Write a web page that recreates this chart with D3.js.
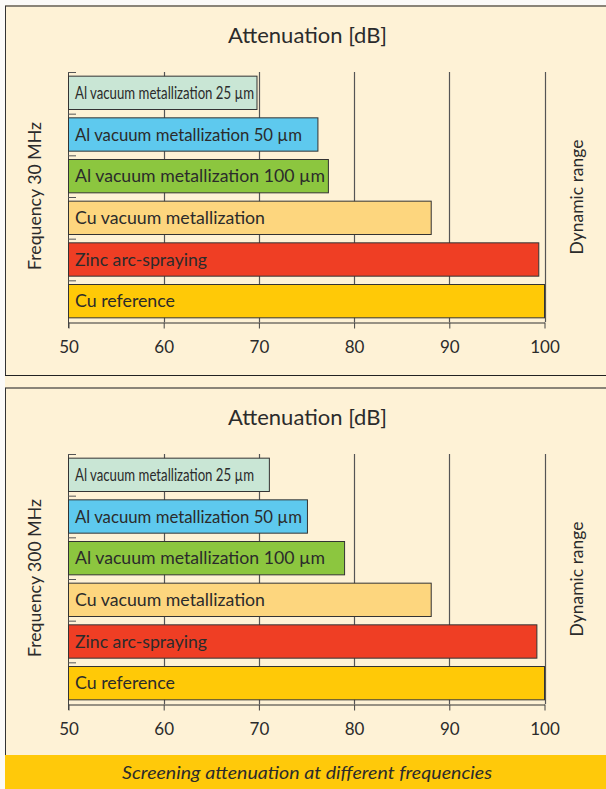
<!DOCTYPE html>
<html><head><meta charset="utf-8">
<script src="https://cdn.jsdelivr.net/npm/d3@7"></script>
<style>
html,body{margin:0;padding:0;background:#fbfaf8;}
svg{display:block;}
text{font-family:Lato,"Open Sans",sans-serif;fill:#2b2b2b;}
</style></head>
<body>
<svg id="c" width="606" height="789"></svg>
<script>
const categories = ["Al vacuum metallization 25 µm","Al vacuum metallization 50 µm","Al vacuum metallization 100 µm","Cu vacuum metallization","Zinc arc-spraying","Cu reference"];
const values30 = [69.8, 76.2, 77.3, 88.1, 99.4, 100];
const values300 = [71.1, 75.1, 79.0, 88.1, 99.2, 100];
const tickValues = [50, 60, 70, 80, 90, 100];
const panelLabels = ["Frequency 30 MHz", "Frequency 300 MHz"];
const axisTitle = "Attenuation [dB]";
const rightLabel = "Dynamic range";
const caption = "Screening attenuation at different frequencies";

const colors = ["#c9e6d5","#5ec9ee","#8cc63f","#fdd67e","#ef3e24","#ffc907"];
const labelWidths = [179, 227, 250, 190, 132, 100];

const svg = d3.select("#c");
const x = d3.scaleLinear().domain([50,100]).range([68.5,544.5]);

svg.append("rect").attr("x",5).attr("y",6).attr("width",601).attr("height",749).attr("fill","#fef2d6");

function panel(top, values, freqLabel, bottomY, freqLen) {
  const y0 = top + 66, y1 = top + 316;
  const g = svg.append("g");
  g.append("line").attr("x1",5).attr("x2",606).attr("y1",top).attr("y2",top).attr("stroke","#8a8478").attr("stroke-width",2);
  g.append("line").attr("x1",5.5).attr("x2",5.5).attr("y1",top).attr("y2",bottomY).attr("stroke","#333").attr("stroke-width",1);

  g.append("text").attr("x",307.5).attr("y",top+37).attr("text-anchor","middle").attr("font-size",22)
    .attr("textLength",159).attr("lengthAdjust","spacingAndGlyphs").text(axisTitle);

  const yb = d3.scaleBand().domain(categories).range([y0,y1]).paddingInner(0.2).paddingOuter(0.1);

  g.selectAll(".grid").data(tickValues.slice(1)).join("line")
    .attr("x1",d=>Math.round(x(d))+0.5).attr("x2",d=>Math.round(x(d))+0.5)
    .attr("y1",y0).attr("y2",y1).attr("stroke","#555").attr("stroke-width",1.2);
  g.append("line").attr("x1",68.5).attr("x2",68.5).attr("y1",y0).attr("y2",y1+6).attr("stroke","#444");
  const step = yb.step();
  g.selectAll(".lt").data(d3.range(categories.length)).join("line")
    .attr("x1",68).attr("x2",76).attr("y1",(d)=>y0+d*step+0.5).attr("y2",(d)=>y0+d*step+0.5)
    .attr("stroke","#555").attr("stroke-width",1);

  g.selectAll(".bar").data(values).join("rect")
    .attr("x",x(50)).attr("y",(d,i)=>yb(categories[i]))
    .attr("width",d=>x(d)-x(50)).attr("height",yb.bandwidth())
    .attr("fill",(d,i)=>colors[i]).attr("stroke","#333").attr("stroke-width",1);
  g.selectAll(".bl").data(categories).join("text")
    .attr("x",75).attr("y",d=>yb(d)+yb.bandwidth()/2+6)
    .attr("font-size",(d,i)=>i===0?17:17)
    .attr("font-family",(d,i)=>i===0?"'Liberation Sans Narrow',Lato,sans-serif":null)
    .attr("textLength",(d,i)=>labelWidths[i]).attr("lengthAdjust","spacingAndGlyphs")
    .text(d=>d);

  const ax = d3.axisBottom(x).tickValues(tickValues).tickSize(6).tickPadding(12).tickSizeOuter(0);
  const axg = g.append("g").attr("transform",`translate(0,${y1+0.5})`).call(ax);
  axg.select(".domain").attr("stroke","#333");
  axg.selectAll(".tick line").attr("stroke","#444");
  axg.selectAll(".tick text").attr("font-size",17).attr("font-family","Lato,'Open Sans',sans-serif").attr("fill","#333");

  g.append("text").attr("transform",`translate(41,${top+190}) rotate(-90)`).attr("text-anchor","middle").attr("font-size",17.5)
    .attr("textLength",freqLen).attr("lengthAdjust","spacingAndGlyphs").text(freqLabel);
  g.append("text").attr("transform",`translate(583,${top+191}) rotate(-90)`).attr("text-anchor","middle").attr("font-size",17.5)
    .attr("textLength",115).attr("lengthAdjust","spacingAndGlyphs").text(rightLabel);
}

panel(6, values30, panelLabels[0], 375, 148);
svg.append("line").attr("x1",5).attr("x2",606).attr("y1",375.5).attr("y2",375.5).attr("stroke","#222").attr("stroke-width",1);
panel(388, values300, panelLabels[1], 755, 158);

svg.append("rect").attr("x",5).attr("y",755).attr("width",601).attr("height",34).attr("fill","#ffc90a");
svg.append("text").attr("x",307).attr("y",779).attr("text-anchor","middle").attr("font-size",17.5).attr("font-style","italic").attr("textLength",370).attr("lengthAdjust","spacingAndGlyphs").text(caption);
</script>
</body></html>
